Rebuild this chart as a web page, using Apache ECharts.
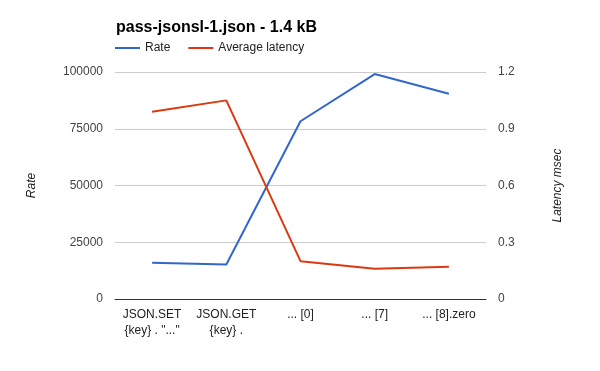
<!DOCTYPE html>
<html><head><meta charset="utf-8">
<script src="https://cdn.jsdelivr.net/npm/echarts@6/dist/echarts.min.js"></script>
<style>html,body{margin:0;padding:0;background:#fff}#c{width:600px;height:371px}</style>
</head><body><div id="c"></div>
<script>
const categories = ['JSON.SET\n{key} . "..."', 'JSON.GET\n{key} .', '... [0]', '... [7]', '... [8].zero'];
const rateValues = [16000, 15200, 78300, 99100, 90400];
const latencyValues = [0.99, 1.05, 0.20, 0.16, 0.17];
const rateTicks = [0, 25000, 50000, 75000, 100000];
const latencyTicks = [0, 0.3, 0.6, 0.9, 1.2];
const FONT = 'Liberation Sans, Arial, sans-serif';
const chart = echarts.init(document.getElementById('c'));
chart.setOption({
  animation: false,
  title: { text: 'pass-jsonsl-1.json - 1.4 kB', left: 111, top: 15,
    textStyle: { fontFamily: FONT, fontSize: 16, fontWeight: 'bold', color: '#000' } },
  legend: { left: 110, top: 37, itemGap: 18, itemWidth: 25, itemHeight: 2, icon: 'rect',
    textStyle: { fontFamily: FONT, fontSize: 12, color: '#222' },
    data: ['Rate', 'Average latency'] },
  grid: { left: 115, right: 114, top: 72, bottom: 72 },
  xAxis: { type: 'category', data: categories, boundaryGap: true,
    axisLine: { lineStyle: { color: '#333' } }, axisTick: { show: false },
    axisLabel: { fontFamily: FONT, fontSize: 12, color: '#222', lineHeight: 16, margin: 8, interval: 0 } },
  yAxis: [
    { type: 'value', min: rateTicks[0], max: rateTicks[rateTicks.length-1], interval: 25000,
      name: 'Rate', nameLocation: 'middle', nameGap: 77, nameRotate: 90,
      nameTextStyle: { fontFamily: FONT, fontSize: 12, fontStyle: 'italic', color: '#222' },
      axisLine: { show: false }, axisTick: { show: false },
      axisLabel: { fontFamily: FONT, fontSize: 12, color: '#444', margin: 12, formatter: v => String(v) },
      splitLine: { lineStyle: { color: '#ccc' } } },
    { type: 'value', min: latencyTicks[0], max: latencyTicks[latencyTicks.length-1], interval: 0.3,
      name: 'Latency msec', nameLocation: 'middle', nameGap: 66, nameRotate: 90,
      nameTextStyle: { fontFamily: FONT, fontSize: 12, fontStyle: 'italic', color: '#222' },
      axisLine: { show: false }, axisTick: { show: false },
      axisLabel: { fontFamily: FONT, fontSize: 12, color: '#444', margin: 12,
        formatter: v => (v === 0 ? '0' : v.toFixed(1)) },
      splitLine: { show: false } }
  ],
  series: [
    { name: 'Rate', type: 'line', yAxisIndex: 0, data: rateValues, symbol: 'none',
      lineStyle: { color: '#3366cc', width: 2 }, itemStyle: { color: '#3366cc' } },
    { name: 'Average latency', type: 'line', yAxisIndex: 1, data: latencyValues, symbol: 'none',
      lineStyle: { color: '#dc3912', width: 2 }, itemStyle: { color: '#dc3912' } }
  ]
});
</script></body></html>
